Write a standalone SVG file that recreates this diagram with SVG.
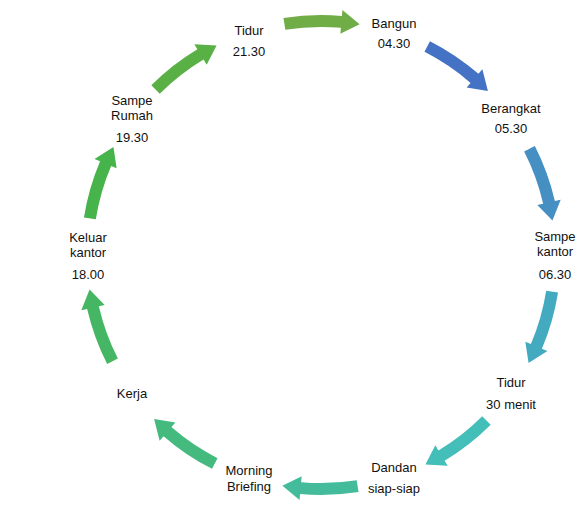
<svg xmlns="http://www.w3.org/2000/svg" xmlns:xlink="http://www.w3.org/1999/xlink" width="585" height="514" viewBox="0 0 585 514">
<style>
text{font-family:"Liberation Sans",Arial,sans-serif;font-size:13px;fill:#111;text-anchor:middle}
</style>
<defs>
<path id="arr" d="M-37.54,-237.05 A240,240 0 0 1 20.92,-239.09 L21.44,-245.06 L38.62,-230.79 L19.35,-221.15 L19.87,-227.13 A228,228 0 0 0 -35.67,-225.19 Z"/>
</defs>
<rect width="585" height="514" fill="#fff"/>
<g id="connectors" transform="translate(321,255)">
<use xlink:href="#arr" fill="#70AD47"/>
<use xlink:href="#arr" fill="#4472C4" transform="rotate(36)"/>
<use xlink:href="#arr" fill="#458FC2" transform="rotate(72)"/>
<use xlink:href="#arr" fill="#44AAC0" transform="rotate(108)"/>
<use xlink:href="#arr" fill="#44BEB9" transform="rotate(144)"/>
<use xlink:href="#arr" fill="#44BC9C" transform="rotate(180)"/>
<use xlink:href="#arr" fill="#44BA7F" transform="rotate(216)"/>
<use xlink:href="#arr" fill="#45B764" transform="rotate(252)"/>
<use xlink:href="#arr" fill="#46B44B" transform="rotate(288)"/>
<use xlink:href="#arr" fill="#59B146" transform="rotate(324)"/>
</g>
<g id="n-tidur"><text x="249" y="35">Tidur</text><text x="249" y="56">21.30</text></g>
<g id="n-bangun"><text x="394" y="28">Bangun</text><text x="394" y="48">04.30</text></g>
<g id="n-berangkat"><text x="511" y="113">Berangkat</text><text x="511" y="133">05.30</text></g>
<g id="n-sampe-kantor"><text x="555" y="241">Sampe</text><text x="555" y="256">kantor</text><text x="555" y="279">06.30</text></g>
<g id="n-tidur-30"><text x="511" y="387">Tidur</text><text x="511" y="409">30 menit</text></g>
<g id="n-dandan"><text x="394" y="472">Dandan</text><text x="394" y="493">siap-siap</text></g>
<g id="n-morning"><text x="249" y="475">Morning</text><text x="249" y="491">Briefing</text></g>
<g id="n-kerja"><text x="132" y="398">Kerja</text></g>
<g id="n-keluar"><text x="88" y="242">Keluar</text><text x="88" y="257">kantor</text><text x="88" y="279">18.00</text></g>
<g id="n-sampe-rumah"><text x="132" y="105">Sampe</text><text x="132" y="120">Rumah</text><text x="132" y="142">19.30</text></g>
</svg>
